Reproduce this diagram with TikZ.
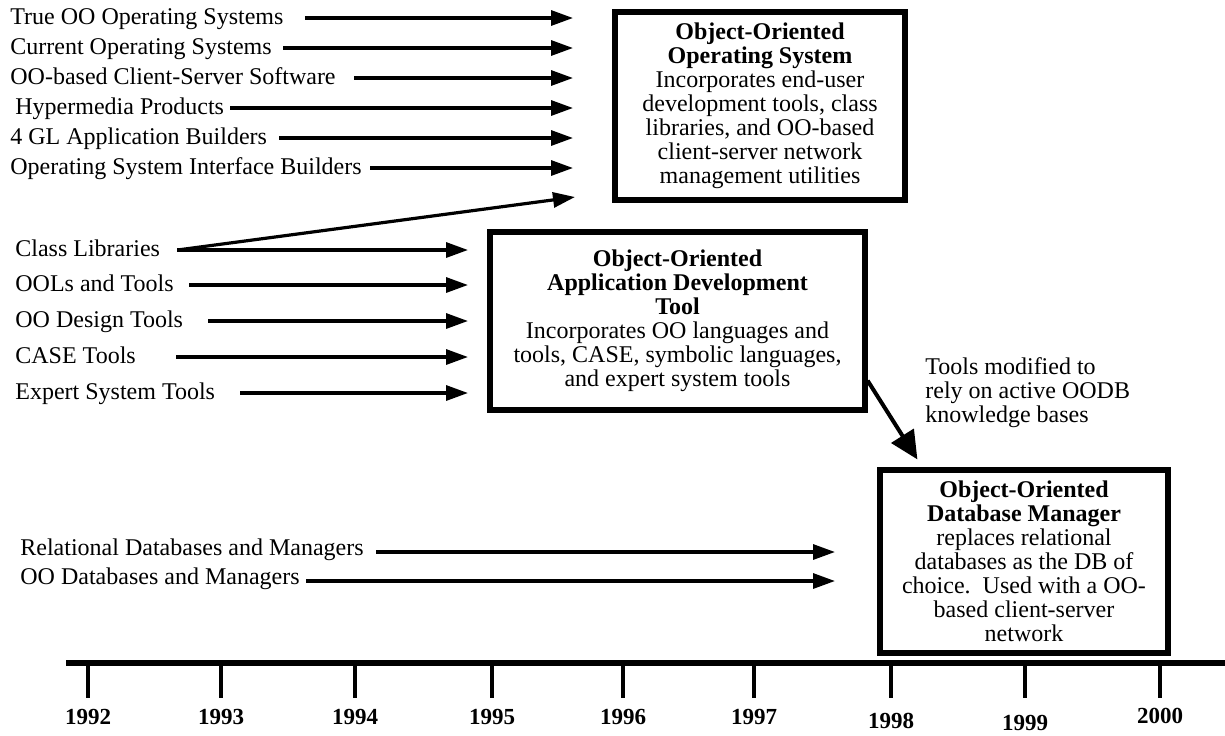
\documentclass[tikz,border=0pt]{standalone}
\usepackage{fontspec}
\setmainfont{Liberation Serif}
\usetikzlibrary{arrows.meta, positioning, calc}

\tikzset{
  lab/.style={anchor=west, inner sep=0pt, text height=8.5pt, text depth=2.5pt},
  flow/.style={line width=1.6pt, -{Triangle[length=11pt, width=7.5pt]}},
  bigflow/.style={line width=2pt, -{Triangle[length=14pt, width=13pt]}},
  stage/.style={draw, line width=2.6pt, align=center, inner sep=0pt},
  yearlab/.style={font=\fontsize{11.5}{11.5}\selectfont\bfseries},
  tick/.style={line width=2pt}
}

\begin{document}
\begin{tikzpicture}[x=0.5pt, y=-0.5pt, font=\fontsize{12}{12}\selectfont]
    \useasboundingbox (0,0) rectangle (1225,735);

    \foreach \i/\x/\y/\g/\txt in {
        1/10/18/10.5pt/{True OO Operating Systems},
        2/10/48/5.5pt/{Current Operating Systems},
        3/10/78/9pt/{OO-based Client-Server Software},
        4/15/108/3pt/{Hypermedia Products},
        5/10/138/6pt/{4 GL Application Builders},
        6/10/168/4pt/{Operating System Interface Builders}}
    {
        \node[lab] (os\i) at (\x,\y) {\txt};
        \coordinate (ost\i) at (573,\y);
        \draw[flow] ([xshift=\g]os\i.east) -- (ost\i);
    }

    \foreach \i/\y/\g/\txt in {
        1/250/8.5pt/{Class Libraries},
        2/285/7.5pt/{OOLs and Tools},
        3/321/12.5pt/{OO Design Tools},
        4/357/20pt/{CASE Tools},
        5/393/12.5pt/{Expert System Tools}}
    {
        \node[lab] (ad\i) at (15,\y) {\txt};
        \coordinate (adt\i) at (468,\y);
        \draw[flow] ([xshift=\g]ad\i.east) -- (adt\i);
    }
    \coordinate (osx) at (575,197);
    \draw[flow] ([xshift=8.5pt]ad1.east) -- (osx);

    \foreach \i/\y/\g/\txt in {
        1/555/6pt/{Relational Databases and Managers},
        2/584/3pt/{OO Databases and Managers}}
    {
        \node[anchor=base west, inner sep=0pt] (db\i) at (20,\y) {\txt};
        \coordinate (dbt\i) at (835,\y-3);
        \draw[flow] ([xshift=\g,yshift=1.5pt]db\i.base east) -- (dbt\i);
    }

    \node[stage, minimum width=145pt, minimum height=94pt] (oos) at (760,106)
        {\textbf{Object-Oriented}\\\textbf{Operating System}\\Incorporates end-user\\development tools, class\\libraries, and OO-based\\client-server network\\management utilities};
    \node[stage, minimum width=187.5pt, minimum height=89pt] (adt) at (677.5,321)
        {\textbf{Object-Oriented}\\\textbf{Application Development}\\\textbf{Tool}\\Incorporates OO languages and\\tools, CASE, symbolic languages,\\and expert system tools};
    \node[stage, minimum width=144pt, minimum height=91.5pt] (odb) at (1024,561.5)
        {\textbf{Object-Oriented}\\\textbf{Database Manager}\\replaces relational\\databases as the DB of\\choice.\ \ Used with a OO-\\based client-server\\network};

    \draw[bigflow] ([yshift=16pt]adt.south east) -- ([xshift=20pt,yshift=4pt]odb.north west);
    \node[anchor=north west, align=left, inner sep=0pt] (note) at (925,357)
        {Tools modified to\\rely on active OODB\\knowledge bases};

    \coordinate (tl0) at (66,663);
    \coordinate (tl1) at (1225,663);
    \draw[line width=3pt] (tl0) -- (tl1);
    \foreach \x/\yr/\ly in {
        88/1992/717, 221/1993/717, 355/1994/717, 492/1995/717, 623/1996/717,
        754/1997/717, 891/1998/721, 1025/1999/723, 1160/2000/716}
    {
        \coordinate (tk\yr) at (\x,663);
        \node[yearlab] (y\yr) at (\x,\ly) {\yr};
        \draw[tick] (tk\yr) -- ++(0,35);
    }
\end{tikzpicture}
\end{document}
